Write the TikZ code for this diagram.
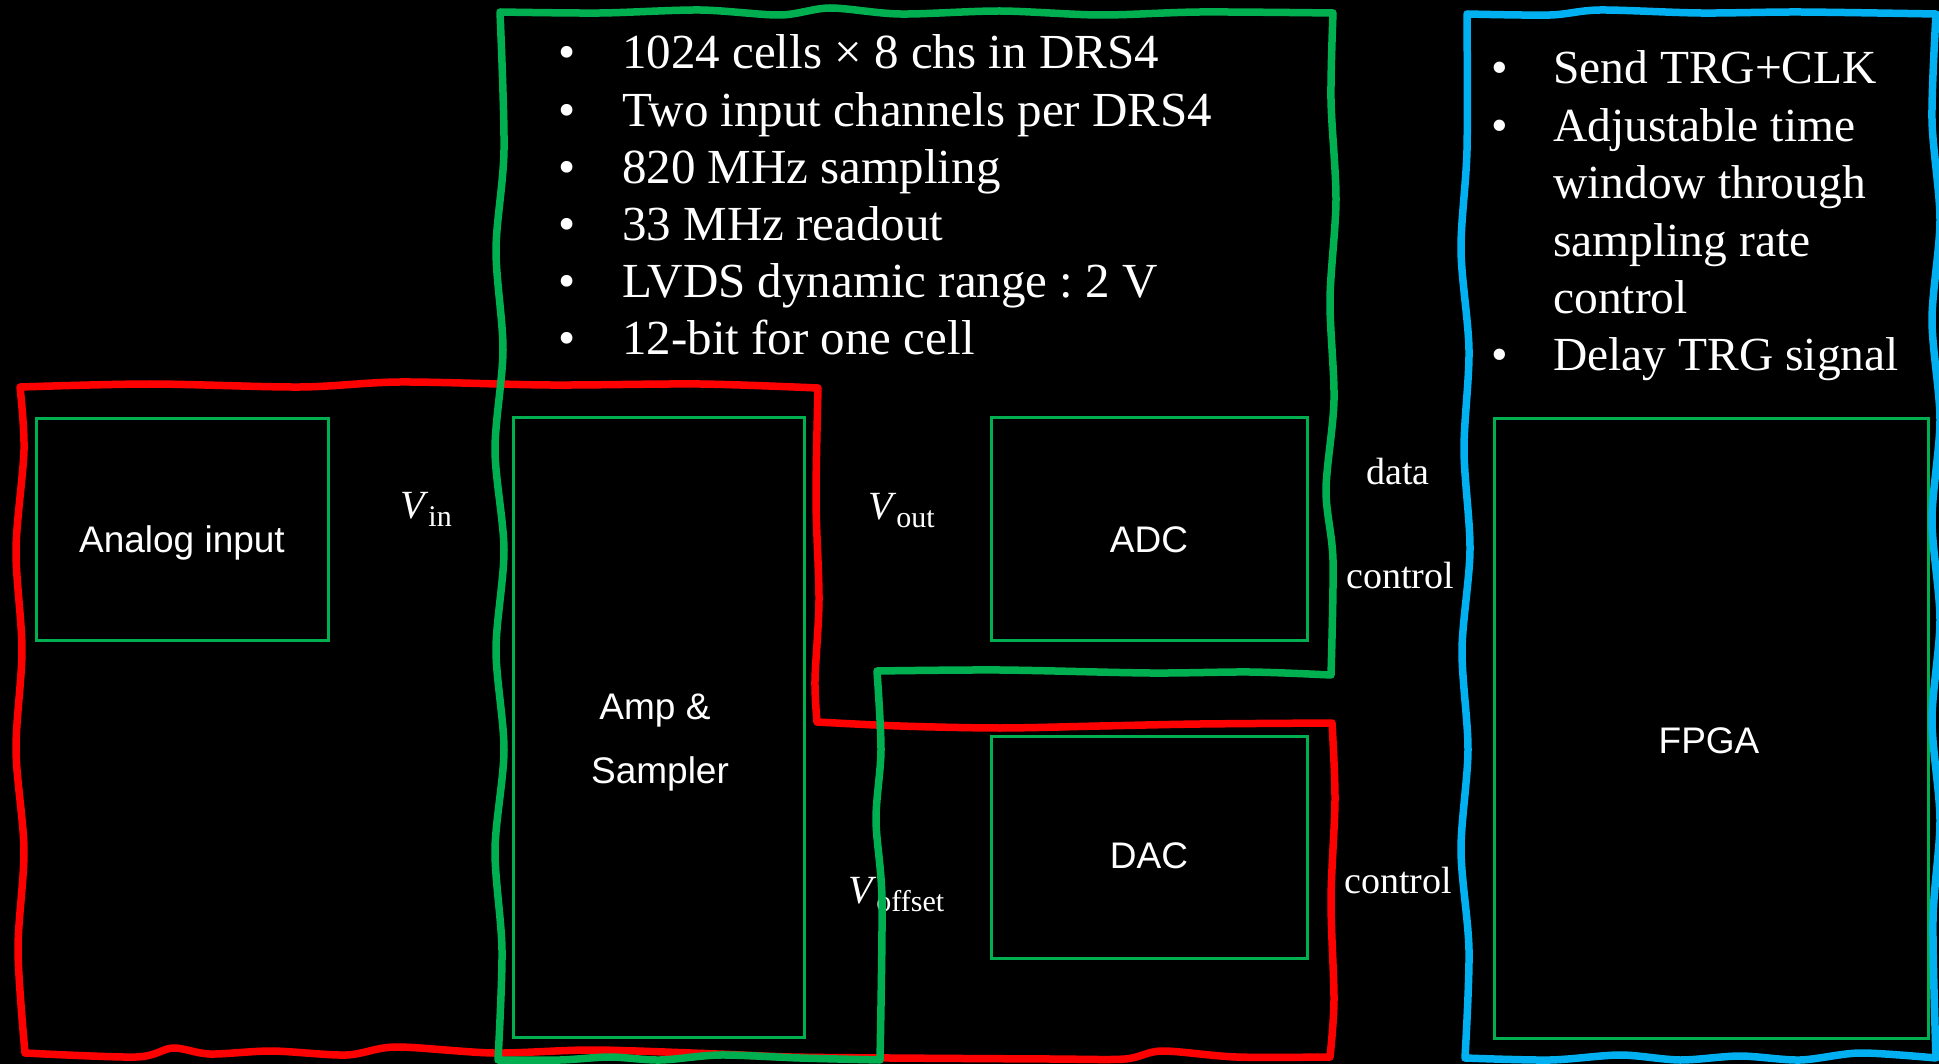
\documentclass[tikz,border=0pt]{standalone}
\usepackage{fontspec}
\setmainfont{Liberation Serif}
\newfontfamily\boxsans{Liberation Sans}
\usetikzlibrary{arrows.meta,calc}
\definecolor{wred}{HTML}{FF0000}
\definecolor{wgreen}{HTML}{00B050}
\definecolor{wblue}{HTML}{00B0F0}
\definecolor{bgreen}{HTML}{00B050}
\frenchspacing
\begin{document}
\begin{tikzpicture}[x=1pt,y=-1pt,
  blk/.style={draw=bgreen, line width=3pt, inner sep=0pt, rectangle},
  blktxt/.style={text=white, font=\boxsans\fontsize{37}{44}\selectfont, anchor=base, inner sep=0pt},
  sertxt/.style={text=white, font=\fontsize{38}{44}\selectfont, anchor=base, inner sep=0pt},
  conn/.style={draw=black, line width=1pt, -{Latex[length=5pt,width=5pt]}},
  wavy/.style={line width=7.5pt, line join=round, line cap=round},
  listtxt/.style={text=white, anchor=base west, inner sep=0pt}
]
\fill[black] (0,0) rectangle (1939,1064);
\useasboundingbox (0,0) rectangle (1939,1064);

% blocks
\node[blk, minimum width=292pt, minimum height=221pt] (ain) at (182,529.5) {};
\node[blk, minimum width=291pt, minimum height=619pt] (amp) at (658.5,727.5) {};
\node[blk, minimum width=316pt, minimum height=222pt] (adc) at (1149,529) {};
\node[blk, minimum width=316pt, minimum height=222pt] (dac) at (1149,847) {};
\node[blk, minimum width=434pt, minimum height=619pt] (fpga) at (1711,728.5) {};

% block texts
\node[blktxt] (aintxt) at (182,552) {Analog input};
\node[blktxt] (amptxta) at (655,719) {Amp \&};
\node[blktxt] (amptxtb) at (660,783) {Sampler};
\node[blktxt] (adctxt) at (1149,552) {ADC};
\node[blktxt] (dactxt) at (1149,868) {DAC};
\node[blktxt] (fpgatxt) at (1709,753) {FPGA};

% connectors (black on black, as in the original)
\draw[conn] (ain.east) -- (ain.east -| amp.west);
\draw[conn] (adc.west -| amp.east) -- (adc.west);
\draw[conn] ($(adc.east)+(0,-37)$) -- ($(adc.east -| fpga.west)+(0,-37)$);
\draw[conn] ($(adc.east -| fpga.west)+(0,15)$) -- ($(adc.east)+(0,15)$);
\draw[conn] (dac.west) -- (dac.west -| amp.east);
\draw[conn] (dac.east -| fpga.west) -- (dac.east);

% connector labels
\node[sertxt, anchor=base west] (vin) at (400,518) {\fontsize{40}{44}\selectfont\textit{V}\raisebox{-8pt}{\fontsize{30}{30}\selectfont in}};
\node[sertxt, anchor=base west] (vout) at (868,519) {\fontsize{40}{44}\selectfont\textit{V}\raisebox{-8pt}{\fontsize{30}{30}\selectfont out}};
\node[sertxt, anchor=base west] (voff) at (848,903) {\fontsize{40}{44}\selectfont\textit{V}\raisebox{-8pt}{\fontsize{30}{30}\selectfont offset}};
\node[sertxt] (datal) at (1398,485) {data};
\node[sertxt] (ctla) at (1400,588) {control};
\node[sertxt] (ctlb) at (1398,893) {control};

% bullet lists
\node[listtxt] (glist) at (558,69) {\parbox[t]{770pt}{\fontsize{49}{57.2}\selectfont
\makebox[64pt][l]{\textbullet}1024 cells × 8 chs in DRS4\\
\makebox[64pt][l]{\textbullet}Two input channels per DRS4\\
\makebox[64pt][l]{\textbullet}820 MHz sampling\\
\makebox[64pt][l]{\textbullet}33 MHz readout\\
\makebox[64pt][l]{\textbullet}LVDS dynamic range : 2 V\\
\makebox[64pt][l]{\textbullet}12-bit for one cell}};
\node[listtxt] (blist) at (1491,84) {\parbox[t]{440pt}{\fontsize{47.5}{57.4}\selectfont
\makebox[62pt][l]{\textbullet}Send TRG+CLK\\
\makebox[62pt][l]{\textbullet}Adjustable time\\
\hspace*{62pt}window through\\
\hspace*{62pt}sampling rate\\
\hspace*{62pt}control\\
\makebox[62pt][l]{\textbullet}Delay TRG signal}};

% hand-drawn outlines
\draw[wavy, draw=wred]
 plot[smooth] coordinates {(20,387) (150,384) (300,387) (400,382) (550,385) (700,384) (818,388)}
 -- plot[smooth] coordinates {(818,388) (816,500) (819,600) (815,680) (817,722)}
 -- plot[smooth] coordinates {(817,722) (900,726) (1000,728) (1100,726) (1200,724) (1332,723)}
 -- plot[smooth] coordinates {(1332,723) (1335,800) (1331,900) (1334,1000) (1330,1057)}
 -- plot[smooth] coordinates {(1330,1057) (1236,1057) (1162,1051) (1125,1059) (1051,1059) (890,1058) (791,1057) (717,1054) (593,1050) (494,1053) (396,1047) (346,1055) (272,1051) (210,1054) (173,1048) (136,1057) (25,1053)}
 -- plot[smooth] coordinates {(25,1053) (18,950) (24,850) (16,750) (22,650) (16,550) (24,450) (20,387)}
 -- cycle;
\draw[wavy, draw=wgreen]
 plot[smooth] coordinates {(500,12) (600,13) (700,10) (780,15) (830,8) (900,14) (1000,11) (1100,15) (1200,12) (1333,13)}
 -- plot[smooth] coordinates {(1333,13) (1331,100) (1336,200) (1330,300) (1334,400) (1326,490) (1333,560) (1331,675)}
 -- plot[smooth] coordinates {(1331,675) (1250,672) (1150,673) (1000,670) (877,671)}
 -- plot[smooth] coordinates {(877,671) (881,750) (876,820) (882,900) (880,1060)}
 -- plot[smooth] coordinates {(880,1060) (800,1058) (720,1055) (660,1060) (610,1057) (560,1060) (498,1060)}
 -- plot[smooth] coordinates {(498,1060) (502,950) (495,850) (504,750) (496,650) (504,550) (495,450) (503,350) (496,250) (504,150) (500,12)}
 -- cycle;
\begin{scope}
\clip (0,0) rectangle (1939,1064);
\draw[wavy, draw=wblue]
 plot[smooth] coordinates {(1467,14) (1550,15) (1600,10) (1700,13) (1800,12) (1936,14)}
 -- plot[smooth] coordinates {(1936,14) (1932,120) (1940,220) (1932,320) (1940,420) (1932,520) (1940,620) (1932,720) (1940,820) (1933,920) (1936,1058)}
 -- plot[smooth] coordinates {(1936,1058) (1860,1053) (1800,1060) (1740,1056) (1680,1060) (1620,1055) (1550,1060) (1465,1058)}
 -- plot[smooth] coordinates {(1465,1058) (1469,950) (1461,850) (1468,750) (1462,650) (1470,550) (1464,450) (1469,350) (1461,250) (1467,150) (1467,14)}
 -- cycle;
\end{scope}
\end{tikzpicture}
\end{document}
